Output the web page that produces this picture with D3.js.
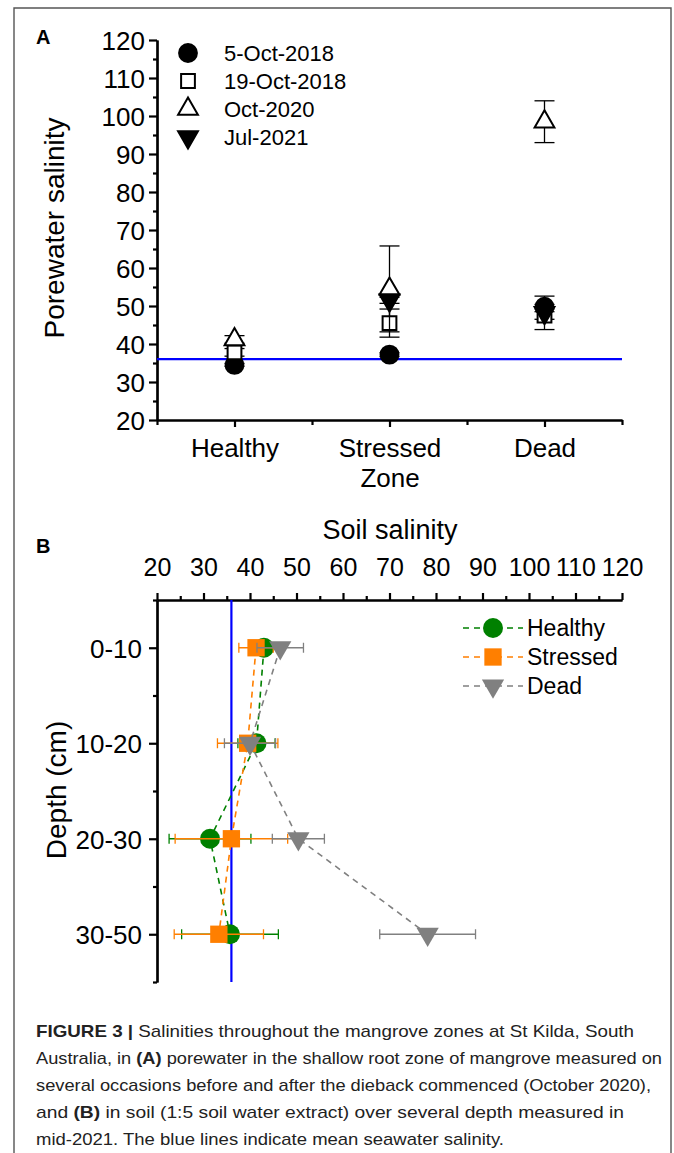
<!DOCTYPE html>
<html>
<head>
<meta charset="utf-8">
<script src="https://cdn.jsdelivr.net/npm/d3@7"></script>
<style>
  body { margin: 0; background: #fff; }
  svg text { font-family: "Liberation Sans", Arial, sans-serif; }
</style>
</head>
<body>
<svg id="fig" width="674" height="1153"></svg>
<script>
// ---- panel A: porewater salinity by zone ----
var zones = ['Healthy', 'Stressed|Zone', 'Dead'];
var dateLabels = ['5-Oct-2018', '19-Oct-2018', 'Oct-2020', 'Jul-2021'];
var oct5_2018 = [34.5, 37.2, 49.8];
var oct5_2018Err = [0.4, 0.5, 0.6];
var oct19_2018 = [37.8, 45.5, 47.5];
var oct19_2018Err = [1.0, 3.7, 1.0];
var oct2020 = [41.2, 54.5, 98.5];
var oct2020Err = [1.0, 11.3, 5.5];
var jul2021 = [null, 51.5, 48.2];
var jul2021Err = [0, 0.8, 4.4];
var yTicksA = [20, 30, 40, 50, 60, 70, 80, 90, 100, 110, 120];

// ---- panel B: soil salinity by depth ----
var depths = ['0-10', '10-20', '20-30', '30-50'];
var zoneNamesB = ['Healthy', 'Stressed', 'Dead'];
var healthy = [43.0, 41.4, 31.4, 35.7];
var healthyErr = [1.0, 4.0, 8.8, 10.4];
var stressed = [41.3, 39.5, 36.0, 33.3];
var stressedErr = [3.7, 6.5, 12.1, 9.6];
var dead = [46.5, 40.0, 50.4, 78.2];
var deadErr = [5.0, 5.5, 5.6, 10.3];
var xTicksB = [20, 30, 40, 50, 60, 70, 80, 90, 100, 110, 120];

var seawater = 36;

var captionLines = [
    [['FIGURE 3 | ', true], ['Salinities throughout the mangrove zones at St Kilda, South', false]],
    [['Australia, in ', false], ['(A)', true], [' porewater in the shallow root zone of mangrove measured on', false]],
    [['several occasions before and after the dieback commenced (October 2020),', false]],
    [['and ', false], ['(B)', true], [' in soil (1:5 soil water extract) over several depth measured in', false]],
    [['mid-2021. The blue lines indicate mean seawater salinity.', false]]
];
var captionEnds = [634, 662, 651, 624, 504];

var svg = d3.select('#fig');

// outer frame
svg.append('path')
    .attr('d', 'M14,1153 L14,8 L671,8 L671,1153')
    .attr('fill', 'none').attr('stroke', '#555').attr('stroke-width', 1.4);

function styleAxis(g, w) {
    g.select('.domain').attr('stroke', '#000').attr('stroke-width', w);
    g.selectAll('.tick line').attr('stroke', '#000').attr('stroke-width', w);
    g.selectAll('.tick text').attr('fill', '#000');
}

function sym(type, size) {
    return d3.symbol().type(type).size(size)();
}

// ================= PANEL A =================
var xA = d3.scaleLinear().domain([0, 3]).range([157, 622]);
var yA = d3.scaleLinear().domain([20, 120]).range([420, 40]);
var gA = svg.append('g');

gA.append('text').attr('x', 36).attr('y', 44)
    .attr('font-size', 20).attr('font-weight', 'bold').text('A');

// minor ticks first
gA.append('g').attr('transform', 'translate(157,0)')
    .call(d3.axisLeft(yA).tickValues(d3.range(25, 120, 10)).tickSize(4).tickSizeOuter(0).tickFormat(''))
    .call(styleAxis, 2.2);
gA.append('g').attr('transform', 'translate(157,0)')
    .call(d3.axisLeft(yA).tickValues(yTicksA).tickSize(8).tickSizeOuter(0).tickPadding(4))
    .call(styleAxis, 2.2)
    .selectAll('.tick text').attr('font-size', 26).attr('dy', '0.36em');

gA.append('g').attr('transform', 'translate(0,420)')
    .call(d3.axisBottom(xA).tickValues([0, 1, 2, 3]).tickSize(5).tickSizeOuter(0).tickFormat(''))
    .call(styleAxis, 2.2);
var xAxA = gA.append('g').attr('transform', 'translate(0,420)')
    .call(d3.axisBottom(xA).tickValues([0.5, 1.5, 2.5]).tickSize(7).tickSizeOuter(0).tickPadding(12)
        .tickFormat(function (d) { return zones[Math.floor(d)]; }))
    .call(styleAxis, 2.2);
xAxA.selectAll('.tick text').attr('font-size', 26).each(function () {
    var t = d3.select(this);
    var parts = t.text().split('|');
    t.text(null);
    parts.forEach(function (p, i) {
        t.append('tspan').attr('x', 0).attr('dy', i === 0 ? '0.71em' : '1.12em').text(p);
    });
});

// seawater line
gA.append('line')
    .attr('x1', xA(0)).attr('x2', xA(3)).attr('y1', yA(seawater)).attr('y2', yA(seawater))
    .attr('stroke', '#0000ff').attr('stroke-width', 2.2);

var seriesA = [
    {vals: oct5_2018, err: oct5_2018Err, type: d3.symbolCircle, size: 250, fill: '#000', rot: 0},
    {vals: oct19_2018, err: oct19_2018Err, type: d3.symbolSquare, size: 190, fill: '#fff', rot: 0},
    {vals: oct2020, err: oct2020Err, type: d3.symbolTriangle, size: 170, fill: '#fff', rot: 0},
    {vals: jul2021, err: jul2021Err, type: d3.symbolTriangle, size: 170, fill: '#000', rot: 180}
];

seriesA.forEach(function (s) {
    var g = gA.append('g');
    s.vals.forEach(function (v, i) {
        if (v === null) { return; }
        var cx = xA(i + 0.5);
        var e = s.err[i];
        g.append('line').attr('x1', cx).attr('x2', cx)
            .attr('y1', yA(v - e)).attr('y2', yA(v + e))
            .attr('stroke', '#000').attr('stroke-width', 1.3);
        [v - e, v + e].forEach(function (c) {
            g.append('line').attr('x1', cx - 10).attr('x2', cx + 10)
                .attr('y1', yA(c)).attr('y2', yA(c))
                .attr('stroke', '#000').attr('stroke-width', 1.3);
        });
        g.append('path').attr('d', sym(s.type, s.size))
            .attr('transform', 'translate(' + cx + ',' + yA(v) + ') rotate(' + s.rot + ')')
            .attr('fill', s.fill).attr('stroke', '#000').attr('stroke-width', 2);
    });
});

// legend A
var legA = gA.append('g');
seriesA.forEach(function (s, i) {
    var ly = 53 + i * 28;
    legA.append('path').attr('d', sym(s.type, s.size))
        .attr('transform', 'translate(188,' + ly + ') rotate(' + s.rot + ')')
        .attr('fill', s.fill).attr('stroke', '#000').attr('stroke-width', 2);
    legA.append('text').attr('x', 224).attr('y', ly + 8)
        .attr('font-size', 22).text(dateLabels[i]);
});

// y label A
gA.append('text')
    .attr('transform', 'translate(64,228) rotate(-90)')
    .attr('text-anchor', 'middle').attr('font-size', 28)
    .text('Porewater salinity');

// ================= PANEL B =================
var xB = d3.scaleLinear().domain([20, 120]).range([157, 622]);
var yB = d3.scaleLinear().domain([-0.5, 3.5]).range([600, 982]);
var gB = svg.append('g');

gB.append('text').attr('x', 36).attr('y', 553)
    .attr('font-size', 20).attr('font-weight', 'bold').text('B');

gB.append('text').attr('x', 390).attr('y', 539)
    .attr('text-anchor', 'middle').attr('font-size', 27).text('Soil salinity');

gB.append('g').attr('transform', 'translate(0,600)')
    .call(d3.axisTop(xB).tickValues(d3.range(25, 120, 10)).tickSize(4).tickSizeOuter(0).tickFormat(''))
    .call(styleAxis, 2.2);
gB.append('g').attr('transform', 'translate(0,600)')
    .call(d3.axisTop(xB).tickValues(xTicksB).tickSize(7).tickSizeOuter(0).tickPadding(17))
    .call(styleAxis, 2.2)
    .selectAll('.tick text').attr('font-size', 25);

gB.append('g').attr('transform', 'translate(157,0)')
    .call(d3.axisLeft(yB).tickValues([-0.5, 0.5, 1.5, 2.5, 3.5]).tickSize(4).tickSizeOuter(0).tickFormat(''))
    .call(styleAxis, 2.2);
gB.append('g').attr('transform', 'translate(157,0)')
    .call(d3.axisLeft(yB).tickValues([0, 1, 2, 3]).tickSize(8).tickSizeOuter(0).tickPadding(7)
        .tickFormat(function (d) { return depths[d]; }))
    .call(styleAxis, 2.2)
    .selectAll('.tick text').attr('font-size', 26).attr('dy', '0.36em');

gB.append('text')
    .attr('transform', 'translate(66,790) rotate(-90)')
    .attr('text-anchor', 'middle').attr('font-size', 28)
    .text('Depth (cm)');

// seawater line
gB.append('line')
    .attr('x1', xB(seawater)).attr('x2', xB(seawater)).attr('y1', yB(-0.5)).attr('y2', yB(3.5))
    .attr('stroke', '#0000ff').attr('stroke-width', 2.2);

var seriesB = [
    {vals: healthy, err: healthyErr, color: '#008000', type: d3.symbolCircle, size: 314, rot: 0},
    {vals: stressed, err: stressedErr, color: '#ff7f00', type: d3.symbolSquare, size: 300, rot: 0},
    {vals: dead, err: deadErr, color: '#808080', type: d3.symbolTriangle, size: 215, rot: 180}
];

var lineB = d3.line()
    .x(function (d) { return xB(d[0]); })
    .y(function (d) { return yB(d[1]); });

seriesB.forEach(function (s) {
    var g = gB.append('g');
    var pts = s.vals.map(function (v, i) { return [v, i]; });
    g.append('path').attr('d', lineB(pts))
        .attr('fill', 'none').attr('stroke', s.color)
        .attr('stroke-width', 1.6).attr('stroke-dasharray', '6,5');
    s.vals.forEach(function (v, i) {
        var cy = yB(i);
        var e = s.err[i];
        g.append('line').attr('x1', xB(v - e)).attr('x2', xB(v + e))
            .attr('y1', cy).attr('y2', cy)
            .attr('stroke', s.color).attr('stroke-width', 1.3);
        [v - e, v + e].forEach(function (c) {
            g.append('line').attr('x1', xB(c)).attr('x2', xB(c))
                .attr('y1', cy - 5).attr('y2', cy + 5)
                .attr('stroke', s.color).attr('stroke-width', 1.3);
        });
        g.append('path').attr('d', sym(s.type, s.size))
            .attr('transform', 'translate(' + xB(v) + ',' + cy + ') rotate(' + s.rot + ')')
            .attr('fill', s.color);
    });
});

// legend B
var legB = gB.append('g');
seriesB.forEach(function (s, i) {
    var ly = 628 + i * 29;
    legB.append('line').attr('x1', 463).attr('x2', 523).attr('y1', ly).attr('y2', ly)
        .attr('stroke', s.color).attr('stroke-width', 1.6).attr('stroke-dasharray', '6,5');
    legB.append('path').attr('d', sym(s.type, s.size))
        .attr('transform', 'translate(493,' + ly + ') rotate(' + s.rot + ')')
        .attr('fill', s.color);
    legB.append('text').attr('x', 527).attr('y', ly + 8)
        .attr('font-size', 23).text(zoneNamesB[i]);
});

// ================= CAPTION =================
var cap = svg.append('g');
captionLines.forEach(function (parts, i) {
    var t = cap.append('text').attr('x', 36).attr('y', 1037 + i * 27)
        .attr('font-size', 17).attr('fill', '#222')
        .attr('textLength', captionEnds[i] - 36).attr('lengthAdjust', 'spacingAndGlyphs');
    parts.forEach(function (p) {
        t.append('tspan').attr('font-weight', p[1] ? 'bold' : 'normal').text(p[0]);
    });
});
</script>
</body>
</html>
